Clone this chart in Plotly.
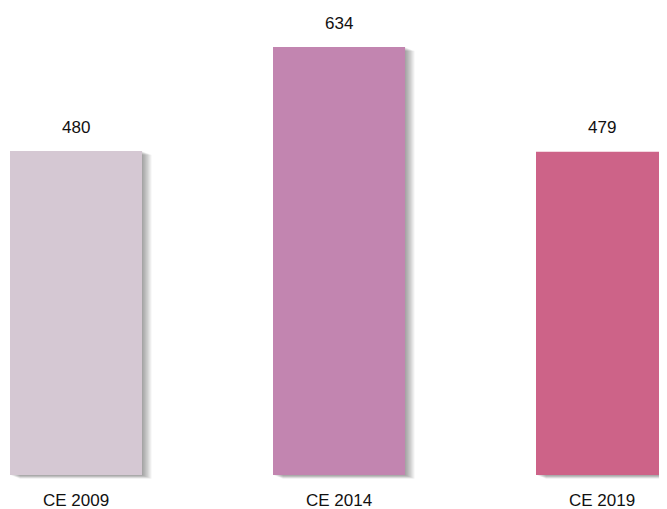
import plotly.graph_objects as go

categories = ["CE 2009", "CE 2014", "CE 2019"]
values = [480, 634, 479]
colors = ["#D5C8D3", "#C285B0", "#CD6388"]

fig = go.Figure()

# soft drop shadow built from stacked translucent bars
n_layers = 8
for i in range(1, n_layers + 1):
    fig.add_trace(go.Bar(
        x=categories, y=values, base=[-i * 0.7] * len(values),
        width=0.502, offset=-0.251 + i * 0.0045,
        marker=dict(color="rgba(0,0,0,0.05)", line=dict(width=0)),
        hoverinfo="skip", showlegend=False, cliponaxis=False,
    ))

fig.add_trace(go.Bar(
    x=categories, y=values, width=0.502, offset=-0.251,
    marker=dict(color=colors, line=dict(width=0)),
    showlegend=False, cliponaxis=False,
))

font_family = "Liberation Sans, Arial, sans-serif"

for c, v in zip(categories, values):
    fig.add_annotation(x=c, y=v, text=str(v), showarrow=False,
                       yanchor="middle", yshift=24,
                       font=dict(family=font_family, size=17, color="#111111"))

fig.update_layout(
    width=659, height=501,
    margin=dict(l=0, r=0, t=0, b=30),
    barmode="overlay",
    plot_bgcolor="white", paper_bgcolor="white",
    font=dict(family=font_family, size=17, color="#111111"),
    xaxis=dict(range=[-0.2586, 2.2471], showgrid=False, zeroline=False,
               showline=False, ticks="", ticklabelstandoff=9, automargin=False,
               tickfont=dict(family=font_family, size=17, color="#111111")),
    yaxis=dict(range=[-5.93, 691.9], visible=False, automargin=False),
)

fig.write_html("out.html")
